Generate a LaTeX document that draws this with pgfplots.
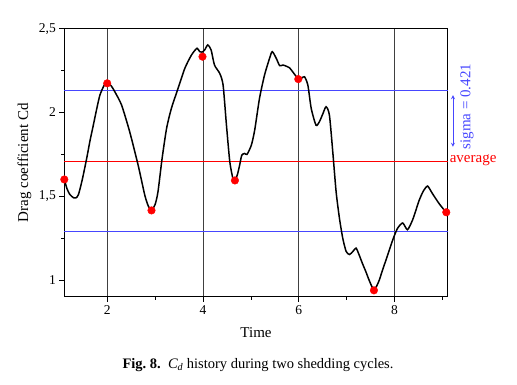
\documentclass[border=0pt]{standalone}
\usepackage{pgfplots}
\pgfplotsset{compat=1.18}
\usepackage{fontspec}
\setmainfont{Liberation Serif}
\definecolor{sigblue}{RGB}{70,70,255}
\begin{document}
\begin{tikzpicture}
\useasboundingbox (0,0) rectangle (517pt,385pt);
\begin{axis}[
  at={(64.3pt,88.3pt)}, anchor=south west,
  scale only axis, width=383.4pt, height=268pt,
  xmin=1.104, xmax=9.11, ymin=0.9, ymax=2.5,
  xtick={2,4,6,8}, minor xtick={3,5,7,9},
  ytick={1,1.5,2,2.5}, minor ytick={1.25,1.75,2.25},
  tick pos=left, tick align=outside,
  major tick length=5pt, minor tick length=3pt,
  tick style={black, line width=0.6pt},
  /pgf/number format/use comma,
  /pgf/number format/assume math mode=true,
  tick label style={font=\fontsize{13.5}{15}\selectfont},
  xmajorgrids, grid style={black!75, line width=0.6pt},
  axis line style={black, line width=0.8pt},
  clip=false,
  xlabel={Time}, ylabel={Drag coefficient Cd},
  xlabel style={at={(axis description cs:0.5,-0.134)}, anchor=center, font=\fontsize{15}{17}\selectfont},
  ylabel style={at={(axis description cs:-0.104,0.5)}, anchor=center, font=\fontsize{15}{17}\selectfont},
]
\addplot[sigblue, line width=0.8pt] coordinates {(1.104,2.129) (9.11,2.129)};
\addplot[sigblue, line width=0.8pt] coordinates {(1.104,1.287) (9.11,1.287)};
\addplot[red, line width=0.6pt] coordinates {(1.104,1.708) (9.11,1.708)};
\addplot[black, line width=1.5pt, smooth, tension=0.4] coordinates {
(1.104,1.600) (1.16,1.545) (1.22,1.51) (1.30,1.49) (1.348,1.490) (1.40,1.51)
(1.48,1.60) (1.571,1.725) (1.64,1.83) (1.71,1.924) (1.78,2.02) (1.848,2.104)
(1.94,2.164) (2.0,2.174) (2.08,2.16) (2.16,2.123) (2.30,2.044) (2.47,1.884)
(2.646,1.685) (2.785,1.506) (2.86,1.44) (2.925,1.415) (3.0,1.45) (3.06,1.526)
(3.146,1.725) (3.24,1.905) (3.34,2.024) (3.48,2.144) (3.62,2.263) (3.76,2.343)
(3.875,2.383) (3.93,2.363) (3.98,2.36) (4.035,2.373) (4.10,2.403) (4.17,2.373)
(4.24,2.283) (4.35,2.233) (4.42,2.163) (4.49,1.924) (4.56,1.705) (4.625,1.606)
(4.667,1.594) (4.72,1.63) (4.765,1.685) (4.81,1.745) (4.87,1.755) (4.92,1.750)
(5.01,1.805) (5.08,1.895) (5.18,2.084) (5.285,2.223) (5.39,2.323) (5.446,2.363)
(5.53,2.323) (5.60,2.28) (5.67,2.283) (5.75,2.275) (5.806,2.267) (5.88,2.24)
(5.946,2.215) (5.99,2.199) (6.06,2.205) (6.12,2.213) (6.19,2.163) (6.26,2.024)
(6.36,1.924) (6.43,1.944) (6.50,1.99) (6.57,2.034) (6.64,1.984) (6.71,1.765)
(6.78,1.526) (6.85,1.367) (6.92,1.247) (6.99,1.17) (7.06,1.152) (7.13,1.17)
(7.196,1.19) (7.26,1.15) (7.33,1.098) (7.40,1.05) (7.47,0.998) (7.56,0.942)
(7.62,0.96) (7.68,0.998) (7.75,1.06) (7.82,1.118) (7.96,1.237) (8.06,1.307)
(8.17,1.34) (8.27,1.30) (8.375,1.357) (8.45,1.42) (8.515,1.476) (8.60,1.53)
(8.69,1.560) (8.79,1.516) (8.93,1.456) (9.07,1.406)
};
\addplot[only marks, mark=*, red, mark size=3.8pt] coordinates {
(1.104,1.600) (2.0,2.174) (2.925,1.415) (3.99,2.333) (4.667,1.594) (5.99,2.199) (7.57,0.938) (9.08,1.404)
};
\draw[sigblue, line width=0.8pt, <->, >=stealth] (axis cs:9.22,2.103) -- (axis cs:9.22,1.795);
\node[sigblue, rotate=90, anchor=center, font=\fontsize{15}{17}\selectfont] at (axis cs:9.515,2.035) {sigma = 0.421};
\node[red, anchor=base west, inner sep=0pt, font=\fontsize{15}{17}\selectfont] at (axis cs:9.15,1.700) {average};
\end{axis}
\node[anchor=center, font=\fontsize{14.5}{16}\selectfont] at (258pt,20pt) {\textbf{Fig.~8.}\ \ \textit{C\textsubscript{d}} history during two shedding cycles.};
\end{tikzpicture}
\end{document}
